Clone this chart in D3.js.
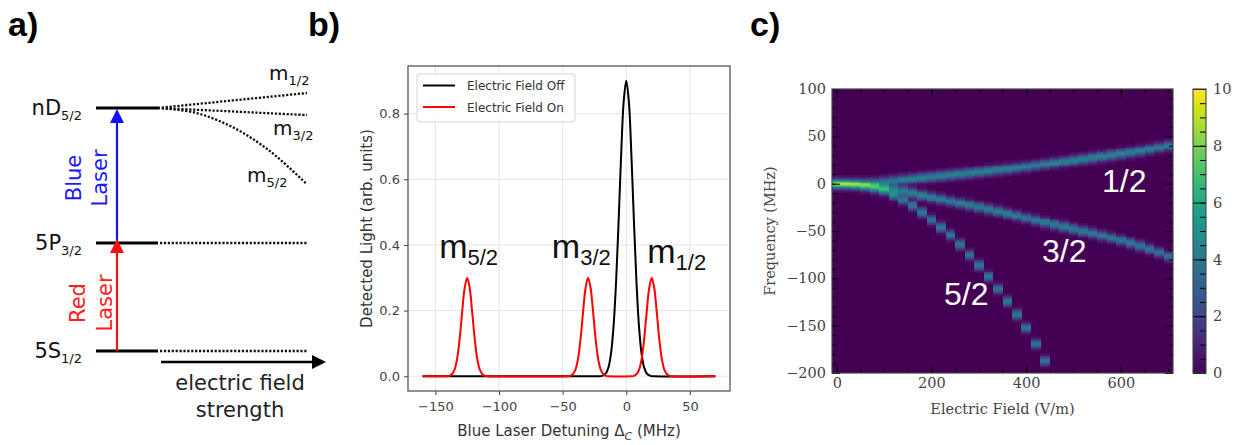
<!DOCTYPE html>
<html>
<head>
<meta charset="utf-8">
<script src="https://cdn.jsdelivr.net/npm/d3@7"></script>
<style>
  body { margin: 0; background: #fff; }
  svg { display: block; }
</style>
</head>
<body>
<svg width="1254" height="445"></svg>
<script>
// ---- panel a: level scheme (schematic units) ----
var levelNames = ["5S", "5P", "nD"];
var levelSubs = ["1/2", "3/2", "5/2"];
var levelEnergy = [0, 1, 2.25];
var fieldSteps = [0, 0.25, 0.5, 0.75, 1];
var shiftM12 = [0, 0.035, 0.07, 0.104, 0.139];
var shiftM32 = [0, -0.016, -0.032, -0.049, -0.065];
var shiftM52 = [0, -0.044, -0.177, -0.398, -0.707];

// ---- panel b: spectra ----
var offX = [-160, -30, -22, -19, -16, -14, -12, -10, -8, -6, -4, -2, 0, 2, 4, 6, 8, 10, 12, 14, 16, 19, 22, 70];
var offY = [0, 0, 0, 0.001, 0.009, 0.027, 0.069, 0.152, 0.288, 0.474, 0.677, 0.838, 0.9, 0.838, 0.677, 0.474, 0.288, 0.152, 0.069, 0.027, 0.009, 0.001, 0, 0];
var onX = [-160,
  -141, -139, -137, -135, -133, -131, -129, -127, -125, -123, -121, -119, -117, -115, -113, -111, -109,
  -46, -44, -42, -40, -38, -36, -34, -32, -30, -28, -26, -24, -22, -20, -18, -16, -14,
  4, 6, 8, 10, 12, 14, 16, 18, 20, 22, 24, 26, 28, 30, 32, 34, 36,
  70];
var onY = [0,
  0, 0.001, 0.006, 0.019, 0.051, 0.111, 0.193, 0.268, 0.3, 0.268, 0.193, 0.111, 0.051, 0.019, 0.006, 0.001, 0,
  0, 0.001, 0.006, 0.019, 0.051, 0.111, 0.193, 0.268, 0.3, 0.268, 0.193, 0.111, 0.051, 0.019, 0.006, 0.001, 0,
  0, 0.001, 0.006, 0.019, 0.051, 0.111, 0.193, 0.268, 0.3, 0.268, 0.193, 0.111, 0.051, 0.019, 0.006, 0.001, 0,
  0];
var bTicksX = [-150, -100, -50, 0, 50];
var bTicksY = [0, 0.2, 0.4, 0.6, 0.8];
var legendNames = ["Electric Field Off", "Electric Field On"];
var peakSubs = ["5/2", "3/2", "1/2"];

// ---- panel c: Stark map, branch centres (MHz) per field column (V/m) ----
var efield = [0, 20, 40, 60, 80, 100, 120, 140, 160, 180, 200, 220, 240, 260, 280, 300, 320, 340,
  360, 380, 400, 420, 440, 460, 480, 500, 520, 540, 560, 580, 600, 620, 640, 660, 680, 700];
var m12Freq = [0, 0.3, 0.6, 1, 1.5, 2.5, 3.4, 4.4, 5.4, 6.5, 7.5, 8.5, 9.5, 10.5, 11.5, 12.5, 13.6, 14.7,
  15.8, 17, 18.2, 19.5, 20.8, 22.1, 23.4, 24.8, 26.2, 27.6, 29, 30.4, 31.8, 33.3, 34.9, 36.6, 38.4, 40.3];
var m32Freq = [0, -0.3, -0.9, -1.8, -3, -4.3, -5.8, -7.6, -9.6, -12, -14.3, -16.4, -18.4, -20.4, -22.4, -24.6, -26.8, -29,
  -31.3, -33.7, -36, -38.3, -40.6, -42.9, -45.2, -47.5, -49.9, -52.3, -54.7, -57.1, -59.5, -62.5, -65.5, -68.8, -72.5, -76.5];
var m52Freq = [0, -0.3, -1.2, -2.8, -4.8, -7, -12, -17, -23, -30, -38, -46, -54, -64, -75, -86, -98, -111,
  -124, -138, -152, -169, -187];
var m12Amp = [3, 3, 3, 3.1, 3.3, 3.6, 3.9, 4.1, 4.3, 4.3, 4.3, 4.3, 4.3, 4.3, 4.3, 4.3, 4.3, 4.3,
  4.3, 4.3, 4.3, 4.3, 4.3, 4.3, 4.3, 4.3, 4.3, 4.3, 4.3, 4.3, 4.3, 4.3, 4.3, 4.3, 4.3, 4.2];
var m32Amp = [3, 3, 3, 3.1, 3.3, 3.6, 3.9, 4.1, 4.3, 4.3, 4.3, 4.3, 4.2, 4.2, 4.2, 4.2, 4.2, 4.2,
  4.1, 4.1, 4.1, 4.1, 4.1, 4.1, 4.1, 4, 4, 4, 4, 4, 3.9, 3.9, 3.9, 3.8, 3.8, 3.7];
var m52Amp = [3, 3, 3, 3.1, 3.3, 3.6, 3.9, 4, 4, 4, 4, 4, 4, 4, 4, 4, 4, 4,
  4, 4, 4, 4, 4];
var branchNames = ["1/2", "3/2", "5/2"];
var cTicksX = [0, 200, 400, 600];
var cTicksY = [-200, -150, -100, -50, 0, 50, 100];
var cbarTicks = [0, 2, 4, 6, 8, 10];

var svg = d3.select("svg");
var sans = "DejaVu Sans, sans-serif";
var serif = "DejaVu Serif, serif";
var arial = "Liberation Sans, Arial, sans-serif";

function subText(g, x, y, main, sub, size, subSize, subDy, anchor, color) {
  var t = g.append("text").attr("x", x).attr("y", y)
    .attr("font-family", sans).attr("font-size", size)
    .attr("text-anchor", anchor || "start").attr("fill", color || "#111");
  t.append("tspan").text(main);
  t.append("tspan").attr("dy", subDy).attr("font-size", subSize).text(sub);
  return t;
}

function styleAxis(g, font, size, textColor, lineColor) {
  g.select(".domain").remove();
  g.selectAll("text").attr("font-family", font).attr("font-size", size).attr("fill", textColor);
  g.selectAll("line").attr("stroke", lineColor);
}

// panel letters
[["a)", 8], ["b)", 308], ["c)", 750]].forEach(function (p) {
  svg.append("text").attr("x", p[1]).attr("y", 36)
    .attr("font-family", arial).attr("font-weight", "bold").attr("font-size", 34)
    .attr("fill", "#000").text(p[0]);
});

// ================= panel a =================
var ga = svg.append("g");
var ya = d3.scaleLinear().domain([0, 2.25]).range([351, 108]);
var xa = d3.scaleLinear().domain([0, 1]).range([158, 307]);

levelEnergy.forEach(function (e, i) {
  ga.append("line").attr("x1", 96).attr("x2", xa(0)).attr("y1", ya(e)).attr("y2", ya(e))
    .attr("stroke", "#000").attr("stroke-width", 3);
  subText(ga, 82, ya(e) + 7, levelNames[i], levelSubs[i], 21, 13, 5, "end");
  if (i < 2) {
    ga.append("line").attr("x1", xa(0) + 2).attr("x2", xa(1)).attr("y1", ya(e)).attr("y2", ya(e))
      .attr("stroke", "#111").attr("stroke-width", 2.3).attr("stroke-dasharray", "2.2,1.7");
  }
});

var branchLine = d3.line().curve(d3.curveCatmullRom);
[shiftM12, shiftM32, shiftM52].forEach(function (s) {
  ga.append("path")
    .attr("d", branchLine(fieldSteps.map(function (f, j) { return [xa(f), ya(levelEnergy[2] + s[j])]; })))
    .attr("fill", "none").attr("stroke", "#111").attr("stroke-width", 2.3).attr("stroke-dasharray", "2.2,1.7");
});
subText(ga, 269, 80, "m", "1/2", 20, 13, 5);
subText(ga, 273, 135, "m", "3/2", 20, 13, 5);
subText(ga, 247, 182, "m", "5/2", 20, 13, 5);

function upArrow(x, yFrom, yTip, color) {
  ga.append("line").attr("x1", x).attr("x2", x).attr("y1", yFrom).attr("y2", yTip + 10)
    .attr("stroke", color).attr("stroke-width", 2.2);
  ga.append("path")
    .attr("d", "M" + x + "," + yTip + "L" + (x - 7) + "," + (yTip + 14) + "L" + (x + 7) + "," + (yTip + 14) + "Z")
    .attr("fill", color);
}
upArrow(117, ya(1), ya(2.25) + 1, "#1010ff");
upArrow(117, ya(0), ya(1) - 4, "#ff1010");

function vText(x, y, txt, color) {
  ga.append("text").attr("transform", "translate(" + x + "," + y + ") rotate(-90)")
    .attr("text-anchor", "middle").attr("font-family", sans).attr("font-size", 21)
    .attr("fill", color).text(txt);
}
vText(81, 178, "Blue", "#1a1aff");
vText(107, 178, "Laser", "#1a1aff");
vText(85, 303, "Red", "#ff2020");
vText(112, 303, "Laser", "#ff2020");

// field arrow
ga.append("line").attr("x1", 161).attr("x2", 314).attr("y1", 362).attr("y2", 362)
  .attr("stroke", "#000").attr("stroke-width", 2.5);
ga.append("path").attr("d", "M326,362L312,355L312,369Z").attr("fill", "#000");
ga.append("text").attr("x", 240).attr("y", 390).attr("text-anchor", "middle")
  .attr("font-family", sans).attr("font-size", 21).attr("fill", "#222").text("electric field");
ga.append("text").attr("x", 240).attr("y", 417).attr("text-anchor", "middle")
  .attr("font-family", sans).attr("font-size", 21).attr("fill", "#222").text("strength");

// ================= panel b =================
var gb = svg.append("g");
var xb = d3.scaleLinear().domain([-171.5, 81.5]).range([408, 730]);
var yb = d3.scaleLinear().domain([-0.045, 0.945]).range([391, 66]);

gb.selectAll(".gx").data(bTicksX).enter().append("line")
  .attr("x1", function (d) { return xb(d); }).attr("x2", function (d) { return xb(d); })
  .attr("y1", 66).attr("y2", 391).attr("stroke", "#e4e4e4").attr("stroke-width", 1);
gb.selectAll(".gy").data(bTicksY).enter().append("line")
  .attr("y1", function (d) { return yb(d); }).attr("y2", function (d) { return yb(d); })
  .attr("x1", 408).attr("x2", 730).attr("stroke", "#e4e4e4").attr("stroke-width", 1);

var axb = gb.append("g").attr("transform", "translate(0,391)")
  .call(d3.axisBottom(xb).tickValues(bTicksX).tickSizeOuter(0).tickSize(4).tickPadding(7));
styleAxis(axb, sans, 13, "#444", "#444");
var ayb = gb.append("g").attr("transform", "translate(408,0)")
  .call(d3.axisLeft(yb).tickValues(bTicksY).tickFormat(d3.format(".1f")).tickSizeOuter(0).tickSize(4).tickPadding(4));
styleAxis(ayb, sans, 13, "#444", "#444");

var specLine = d3.line().x(function (d) { return xb(d[0]); }).y(function (d) { return yb(d[1]); })
  .curve(d3.curveCatmullRom.alpha(0.5));
gb.append("path").attr("d", specLine(offX.map(function (x, i) { return [x, offY[i]]; })))
  .attr("fill", "none").attr("stroke", "#000").attr("stroke-width", 2);
gb.append("path").attr("d", specLine(onX.map(function (x, i) { return [x, onY[i]]; })))
  .attr("fill", "none").attr("stroke", "#ff0000").attr("stroke-width", 2);

gb.append("rect").attr("x", 408).attr("y", 66).attr("width", 322).attr("height", 325)
  .attr("fill", "none").attr("stroke", "#555").attr("stroke-width", 1.3);

// legend
gb.append("rect").attr("x", 417).attr("y", 74).attr("width", 158).attr("height", 48).attr("rx", 3)
  .attr("fill", "#fff").attr("fill-opacity", 0.85).attr("stroke", "#d4d4d4");
legendNames.forEach(function (n, i) {
  var y = 85.5 + i * 21.5;
  gb.append("line").attr("x1", 423).attr("x2", 455).attr("y1", y).attr("y2", y)
    .attr("stroke", i ? "#ff0000" : "#000").attr("stroke-width", 2);
  gb.append("text").attr("x", 467).attr("y", y + 4.5).attr("font-family", sans).attr("font-size", 12)
    .attr("fill", "#333").text(n);
});

// peak labels
var peakLabelX = [-147, -58.5, 16.5];
var peakLabelY = [0.361, 0.361, 0.346];
peakSubs.forEach(function (s, i) {
  var t = gb.append("text").attr("x", xb(peakLabelX[i])).attr("y", yb(peakLabelY[i]))
    .attr("font-family", arial).attr("font-size", 34).attr("fill", "#111");
  t.append("tspan").text("m");
  t.append("tspan").attr("dy", 7).attr("font-size", 22).text(s);
});

gb.append("text").attr("transform", "translate(367,228.5) rotate(-90)")
  .attr("text-anchor", "middle").attr("dominant-baseline", "central")
  .attr("font-family", sans).attr("font-size", 15).attr("fill", "#333")
  .text("Detected Light (arb. units)");
var xlab = gb.append("text").attr("x", 569).attr("y", 436).attr("text-anchor", "middle")
  .attr("font-family", sans).attr("font-size", 15).attr("fill", "#333");
xlab.append("tspan").text("Blue Laser Detuning \u0394");
xlab.append("tspan").attr("dy", 4).attr("font-size", 11).attr("font-style", "italic").text("C");
xlab.append("tspan").attr("dy", -4).text(" (MHz)");

// ================= panel c =================
var gc = svg.append("g");
var xc = d3.scaleLinear().domain([-10, 710]).range([832, 1173]);
var yc = d3.scaleLinear().domain([-200, 100]).range([373, 89]);
var color = d3.scaleSequential(d3.interpolateViridis).domain([0, 10]).clamp(true);

var defs = svg.append("defs");
defs.append("clipPath").attr("id", "plotc").append("rect")
  .attr("x", 832).attr("y", 89).attr("width", 341).attr("height", 284);
defs.append("filter").attr("id", "soft").attr("x", "-5%").attr("y", "-5%").attr("width", "110%").attr("height", "110%")
  .append("feGaussianBlur").attr("stdDeviation", 0.7);

gc.append("rect").attr("x", 832).attr("y", 89).attr("width", 341).attr("height", 284).attr("fill", color(0));

// each field column: line shape of width lineSigma around every branch centre
var branches = [
  { freq: m12Freq, amp: m12Amp },
  { freq: m32Freq, amp: m32Amp },
  { freq: m52Freq, amp: m52Amp }
];
var lineSigma = 3.3;
var cells = [];
efield.forEach(function (E, i) {
  for (var f = -200; f <= 100; f++) {
    var v = 0;
    branches.forEach(function (b) {
      if (i >= b.freq.length) return;
      var d = f - b.freq[i];
      v += b.amp[i] * Math.exp(-d * d / (2 * lineSigma * lineSigma));
    });
    if (v > 0.1) cells.push({ E: E, f: f, v: v });
  }
});
gc.append("g").attr("clip-path", "url(#plotc)")
  .append("g").attr("filter", "url(#soft)")
  .selectAll("rect").data(cells).enter().append("rect")
  .attr("x", function (d) { return xc(d.E - 10); })
  .attr("width", function (d) { return xc(d.E + 10) - xc(d.E - 10) + 0.3; })
  .attr("y", function (d) { return yc(d.f + 0.5); })
  .attr("height", function (d) { return yc(d.f - 0.5) - yc(d.f + 0.5) + 0.3; })
  .attr("fill", function (d) { return color(d.v); })
  .attr("shape-rendering", "crispEdges");

var minorX = d3.range(0, 701, 50);
var minorY = d3.range(-200, 101, 10);
function ticksOnly(g) { g.select(".domain").remove(); g.selectAll("line").attr("stroke", "#000"); g.selectAll("text").remove(); }

gc.append("g").attr("transform", "translate(0,373)")
  .call(d3.axisBottom(xc).tickValues(minorX).tickSize(-4)).call(ticksOnly);
gc.append("g").attr("transform", "translate(0,89)")
  .call(d3.axisTop(xc).tickValues(minorX).tickSize(-4)).call(ticksOnly);
gc.append("g").attr("transform", "translate(0,89)")
  .call(d3.axisTop(xc).tickValues(cTicksX).tickSize(-8)).call(ticksOnly);
gc.append("g").attr("transform", "translate(832,0)")
  .call(d3.axisLeft(yc).tickValues(minorY).tickSize(-4)).call(ticksOnly);
gc.append("g").attr("transform", "translate(1173,0)")
  .call(d3.axisRight(yc).tickValues(minorY).tickSize(-4)).call(ticksOnly);
gc.append("g").attr("transform", "translate(1173,0)")
  .call(d3.axisRight(yc).tickValues(cTicksY).tickSize(-8)).call(ticksOnly);

var axc = gc.append("g").attr("transform", "translate(0,373)")
  .call(d3.axisBottom(xc).tickValues(cTicksX).tickSizeOuter(0).tickSizeInner(-8).tickPadding(5));
styleAxis(axc, serif, 14.5, "#444", "#000");
var ayc = gc.append("g").attr("transform", "translate(832,0)")
  .call(d3.axisLeft(yc).tickValues(cTicksY).tickSizeOuter(0).tickSizeInner(-8).tickPadding(6));
styleAxis(ayc, serif, 14.5, "#444", "#000");

gc.append("rect").attr("x", 832).attr("y", 89).attr("width", 341).attr("height", 284)
  .attr("fill", "none").attr("stroke", "#444").attr("stroke-width", 1.2);

var branchLabelX = [1102, 1042, 944];
var branchLabelY = [192, 262, 305];
branchNames.forEach(function (n, i) {
  gc.append("text").attr("x", branchLabelX[i]).attr("y", branchLabelY[i])
    .attr("font-family", arial).attr("font-size", 32).attr("fill", "#fff").text(n);
});

gc.append("text").attr("transform", "translate(770,231) rotate(-90)")
  .attr("text-anchor", "middle").attr("dominant-baseline", "central")
  .attr("font-family", serif).attr("font-size", 14.5).attr("fill", "#444").text("Frequency (MHz)");
gc.append("text").attr("x", 1002.5).attr("y", 414).attr("text-anchor", "middle")
  .attr("font-family", serif).attr("font-size", 14.5).attr("fill", "#444").text("Electric Field (V/m)");

// colorbar
var yCb = d3.scaleLinear().domain([0, 10]).range([373, 89]);
var grad = defs.append("linearGradient").attr("id", "cbar")
  .attr("x1", 0).attr("y1", 1).attr("x2", 0).attr("y2", 0);
d3.range(0, 1.001, 0.05).forEach(function (t) {
  grad.append("stop").attr("offset", t).attr("stop-color", d3.interpolateViridis(t));
});
gc.append("rect").attr("x", 1193).attr("y", 89).attr("width", 13).attr("height", 284).attr("fill", "url(#cbar)");
gc.append("g").attr("transform", "translate(1206,0)")
  .call(d3.axisRight(yCb).tickValues(d3.range(0, 10.01, 0.5)).tickSize(-6)).call(ticksOnly);
var acb = gc.append("g").attr("transform", "translate(1206,0)")
  .call(d3.axisRight(yCb).tickValues(cbarTicks).tickSizeOuter(0).tickSizeInner(-13).tickPadding(7));
styleAxis(acb, serif, 14.5, "#444", "#000");
gc.append("rect").attr("x", 1193).attr("y", 89).attr("width", 13).attr("height", 284)
  .attr("fill", "none").attr("stroke", "#444").attr("stroke-width", 1.1);
</script>
</body>
</html>
